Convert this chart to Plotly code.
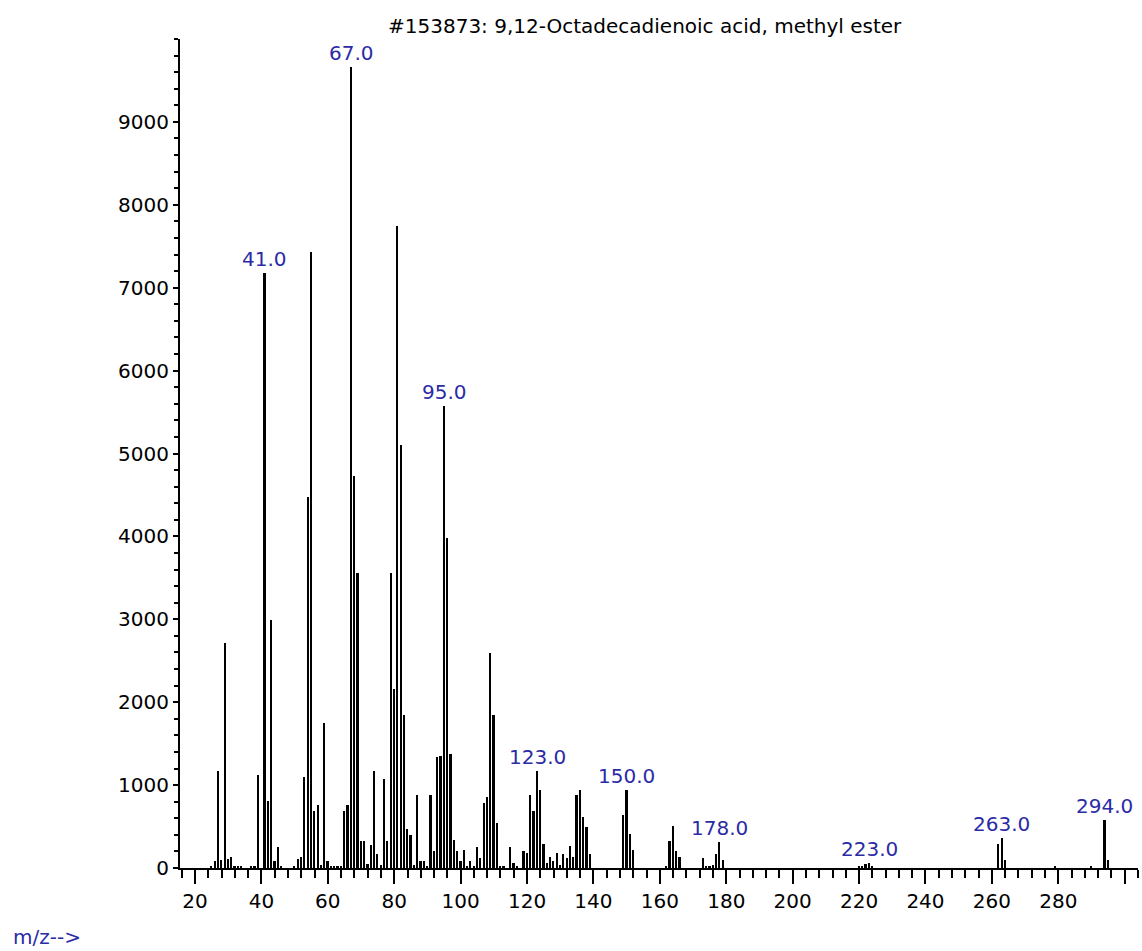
import plotly.graph_objects as go

# Mass spectrum of 9,12-octadecadienoic acid, methyl ester (library entry #153873)
mz = [25, 26, 27, 28, 29, 30, 31, 32, 33, 34, 37, 38, 39, 41, 42, 43, 44, 45, 46,
      50, 51, 52, 53, 54, 55, 56, 57, 58, 59, 60, 61, 62, 63, 64, 65, 66, 67, 68, 69,
      70, 71, 72, 73, 74, 75, 76, 77, 78, 79, 80, 81, 82, 83, 84, 85, 86, 87, 88, 89,
      90, 91, 92, 93, 94, 95, 96, 97, 98, 99, 100, 101, 102, 103, 104, 105, 106, 107,
      108, 109, 110, 111, 112, 113, 115, 116, 117, 119, 120, 121, 122, 123, 124, 125,
      126, 127, 128, 129, 130, 131, 132, 133, 134, 135, 136, 137, 138, 139, 149, 150,
      151, 152, 162, 163, 164, 165, 166, 173, 174, 175, 176, 177, 178, 179, 220, 221,
      222, 223, 224, 262, 263, 264, 279, 290, 294, 295]
abundance = [20, 80, 1165, 100, 2715, 108, 128, 20, 30, 25, 20, 30, 1117, 7172, 803,
             2990, 80, 248, 30, 20, 108, 128, 1097, 4472, 7432, 683, 755, 40, 1748, 80,
             30, 20, 30, 20, 683, 755, 9663, 4733, 3556, 320, 320, 50, 273, 1165, 172,
             40, 1070, 320, 3556, 2158, 7742, 5103, 1840, 466, 397, 40, 875, 80, 80, 30,
             875, 200, 1333, 1353, 5576, 3985, 1378, 341, 200, 80, 221, 30, 80, 30, 248,
             120, 783, 851, 2591, 1840, 542, 30, 20, 248, 60, 20, 200, 180, 875, 683,
             1165, 944, 293, 60, 128, 80, 180, 40, 172, 120, 268, 128, 875, 944, 610,
             490, 172, 634, 944, 414, 221, 30, 320, 510, 200, 128, 120, 30, 20, 40, 172,
             313, 100, 20, 30, 48, 55, 30, 289, 361, 100, 30, 25, 582, 100]

labeled_mz = [41, 67, 95, 123, 150, 178, 223, 263, 294]

title_text = "#153873: 9,12-Octadecadienoic acid, methyl ester"
axis_caption = "m/z-->"

x_major = list(range(20, 301, 20))
x_major_text = [str(v) if v < 300 else "" for v in x_major]
y_major = list(range(0, 10000, 1000))

FONT = "DejaVu Sans"
LABEL_BLUE = "#2b2ba6"

W, H = 1142, 951
ML, MR, MT, MB = 180, 4, 39, 83

fig = go.Figure()
fig.add_trace(go.Bar(
    x=mz, y=abundance, width=0.52,
    marker=dict(color="black", line=dict(width=0)),
    hoverinfo="x+y",
))

lookup = dict(zip(mz, abundance))
annotations = []
for m in labeled_mz:
    annotations.append(dict(
        x=m, y=lookup[m], xref="x", yref="y",
        text=f"{m:.1f}", showarrow=False,
        xanchor="center", yanchor="bottom", yshift=0,
        font=dict(family=FONT, size=20, color=LABEL_BLUE),
    ))

plot_w = W - ML - MR
plot_h = H - MT - MB

def px_to_paper_x(px):
    return (px - ML) / plot_w

def px_to_paper_y(py):
    return (H - MB - py) / plot_h

annotations.append(dict(
    x=px_to_paper_x(645), y=px_to_paper_y(26), xref="paper", yref="paper",
    text=title_text, showarrow=False, xanchor="center", yanchor="middle",
    font=dict(family=FONT, size=20, color="black"),
))
annotations.append(dict(
    x=px_to_paper_x(47), y=px_to_paper_y(937), xref="paper", yref="paper",
    text=axis_caption, showarrow=False, xanchor="center", yanchor="middle",
    font=dict(family=FONT, size=20, color=LABEL_BLUE),
))

fig.update_layout(
    width=W, height=H,
    margin=dict(l=ML, r=MR, t=MT, b=MB, pad=0),
    paper_bgcolor="white", plot_bgcolor="white",
    showlegend=False,
    bargap=0,
    annotations=annotations,
    font=dict(family=FONT, size=20, color="black"),
    xaxis=dict(
        range=[15.48, 304.0], showgrid=False, zeroline=False,
        showline=True, linecolor="black", linewidth=2,
        tickmode="array", tickvals=x_major, ticktext=x_major_text,
        ticks="outside", ticklen=14, tickwidth=2, tickcolor="black",
        tickfont=dict(family=FONT, size=20, color="black"),
        minor=dict(tickmode="linear", tick0=0, dtick=4, ticks="outside",
                   ticklen=8, tickwidth=2, tickcolor="black", showgrid=False),
        fixedrange=True,
    ),
    yaxis=dict(
        range=[0, 10000], showgrid=False, zeroline=False,
        showline=True, linecolor="black", linewidth=2,
        tickmode="array", tickvals=y_major,
        ticks="outside", ticklen=5, tickwidth=2, tickcolor="black",
        tickfont=dict(family=FONT, size=20, color="black"),
        minor=dict(tickmode="linear", tick0=0, dtick=200, ticks="outside",
                   ticklen=4, tickwidth=2, tickcolor="black", showgrid=False),
        fixedrange=True,
    ),
)

fig.write_html("out.html")
